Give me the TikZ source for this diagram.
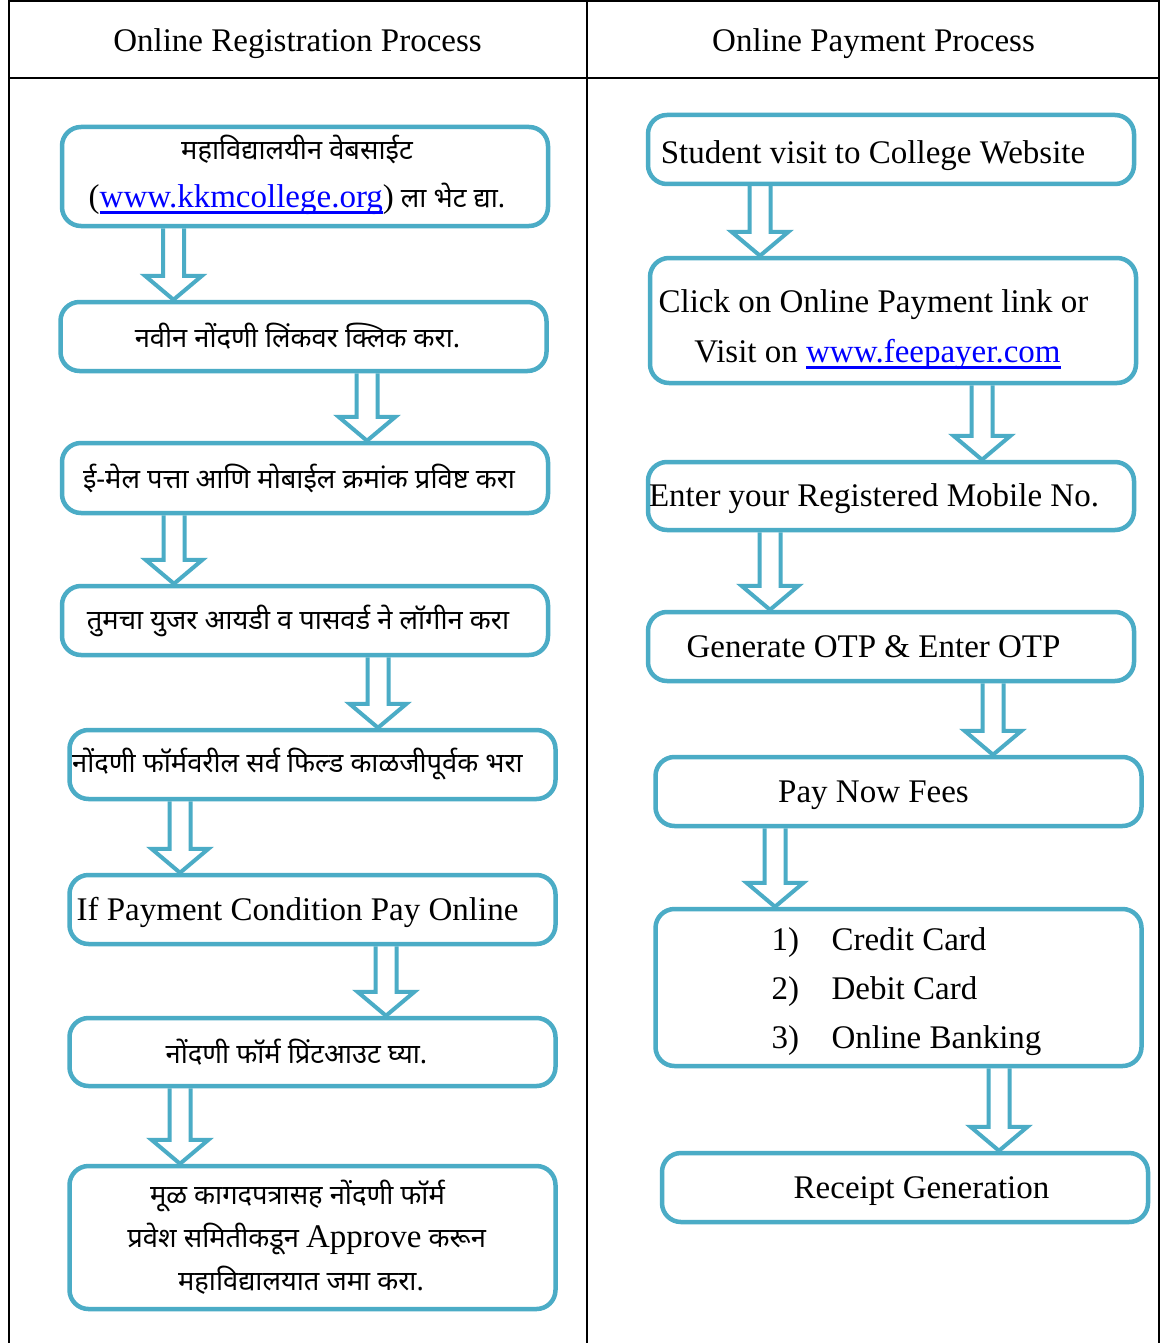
\documentclass[tikz,border=0pt]{standalone}
\usepackage{fontspec}
\setmainfont{Liberation Serif}
\newfontfamily\dev[Script=Devanagari]{Noto Sans}
\usetikzlibrary{calc}
\definecolor{cy}{RGB}{75,172,198}
\newcommand\sh[2]{\hspace*{#1pt}#2\hspace*{-#1pt}}
\newcommand\lat{\rmfamily\fontsize{33}{49}\selectfont}
\newcommand\dv{\dev\fontsize{27.3}{46}\selectfont}
\newcommand\ulk[1]{\setbox0\hbox{#1}\rlap{\rule[-6.5pt]{\wd0}{2.6pt}}\box0}
\newcommand\barr[3]{%
  \path let \p1=(#2.south), \p2=(#3.north) in
    (#1pt,\y1) coordinate (#2#3s) (#1pt,\y2) coordinate (#2#3e);
  \draw[barrow] ([xshift=-10.5pt]#2#3s) -- ([xshift=-10.5pt,yshift=24pt]#2#3e)
    -- ([xshift=-28.5pt,yshift=24pt]#2#3e) -- (#2#3e)
    -- ([xshift=28.5pt,yshift=24pt]#2#3e) -- ([xshift=10.5pt,yshift=24pt]#2#3e)
    -- ([xshift=10.5pt]#2#3s);}
\begin{document}
\begin{tikzpicture}[x=1pt,y=-1pt,
  box/.style={draw=cy, line width=4.5pt, rounded corners=19pt, fill=white,
    inner sep=0pt, minimum width=486pt, align=center},
  tbl/.style={draw=black, line width=2pt},
  barrow/.style={draw=cy, line width=4pt, line join=miter},
  lat/.style={font=\lat, text height=30pt, text depth=9pt},
  dv/.style={font=\dv}]
\useasboundingbox (0,0) rectangle (1163,1343);
\fill[white] (0,0) rectangle (1163,1343);
% table
\draw[tbl] (8.5,1) -- (1159,1);
\draw[tbl] (8.5,78) -- (1159,78);
\draw[tbl] (8.5,0) -- (8.5,1343);
\draw[tbl] (587,0) -- (587,1343);
\draw[tbl] (1159,0) -- (1159,1343);
\node[lat,text height=34pt] (h1) at (297.5,39.5) {Online Registration Process};
\node[lat,text height=34pt] (h2) at (873.5,39.5) {Online Payment Process};
% left column
\node[box,font=\dev\fontsize{27.3}{48}\selectfont,minimum height=99pt] (L1) at (305,176.5)
  {\sh{-8}{महाविद्यालयीन वेबसाईट}\\
   \sh{-8}{{\lat(\textcolor{blue}{\ulk{www.kkmcollege.org}})} ला भेट द्या.\rule[-11pt]{0pt}{0pt}}};
\node[box,dv,minimum height=69pt] (L2) at (303.5,336.5) {\sh{-6}{नवीन नोंदणी लिंकवर क्लिक करा.}};
\node[box,dv,minimum height=70pt] (L3) at (305,478) {\sh{-6}{ई-मेल पत्ता आणि मोबाईल क्रमांक प्रविष्ट करा}};
\node[box,dv,minimum height=69pt] (L4) at (305,620.5) {\sh{-7}{तुमचा युजर आयडी व पासवर्ड ने लॉगीन करा}};
\node[box,dv,minimum height=69pt] (L5) at (312.5,764.5) {\sh{-15}{नोंदणी फॉर्मवरील सर्व फिल्ड काळजीपूर्वक भरा}};
\node[box,lat,minimum height=69pt] (L6) at (312.5,909.5) {\sh{-15}{If Payment Condition Pay Online}};
\node[box,dv,minimum height=68pt] (L7) at (312.5,1052) {\sh{-16}{नोंदणी फॉर्म प्रिंटआउट घ्या.}};
\node[box,font=\dev\fontsize{27.3}{43}\selectfont,minimum height=143pt] (L8) at (312.5,1237.5)
  {\sh{-15}{मूळ कागदपत्रासह नोंदणी फॉर्म}\\
   \sh{-11.5}{प्रवेश समितीकडून {\lat Approve} करून}\\
   \sh{-11.5}{महाविद्यालयात जमा करा.}};
% right column
\node[box,lat,text height=38pt,minimum height=69pt] (R1) at (891,149.5) {\sh{-18}{Student visit to College Website}};
\node[box,font=\rmfamily\fontsize{33}{50}\selectfont,minimum height=125pt] (R2) at (893,320.5)
  {\sh{-19.5}{\rule{0pt}{41pt}Click on Online Payment link or}\\
   \sh{-15.5}{Visit on \textcolor{blue}{\ulk{www.feepayer.com}}}};
\node[box,lat,minimum height=68pt] (R3) at (891,496) {\sh{-17}{Enter your Registered Mobile No.}};
\node[box,lat,minimum height=69pt] (R4) at (891,646.5) {\sh{-17.5}{Generate OTP \& Enter OTP}};
\node[box,lat,minimum height=69pt] (R5) at (898.5,791.5) {\sh{-25}{Pay Now Fees}};
\node[box,font=\rmfamily\fontsize{33}{49}\selectfont,align=left,minimum height=157pt] (R6) at (898.5,987.5)
  {\sh{8}{\rule{0pt}{32pt}\makebox[27pt][l]{1)}\hspace*{33pt}Credit Card}\\
   \sh{8}{\makebox[27pt][l]{2)}\hspace*{33pt}Debit Card}\\
   \sh{8}{\makebox[27pt][l]{3)}\hspace*{33pt}Online Banking}};
\node[box,lat,minimum height=69pt] (R7) at (905,1187.5) {\sh{16.5}{Receipt Generation}};
% arrows
\barr{173.5}{L1}{L2}
\barr{367}{L2}{L3}
\barr{174}{L3}{L4}
\barr{378}{L4}{L5}
\barr{180}{L5}{L6}
\barr{386}{L6}{L7}
\barr{180}{L7}{L8}
\barr{760}{R1}{R2}
\barr{982}{R2}{R3}
\barr{770}{R3}{R4}
\barr{993}{R4}{R5}
\barr{775}{R5}{R6}
\barr{999}{R6}{R7}
\end{tikzpicture}
\end{document}
